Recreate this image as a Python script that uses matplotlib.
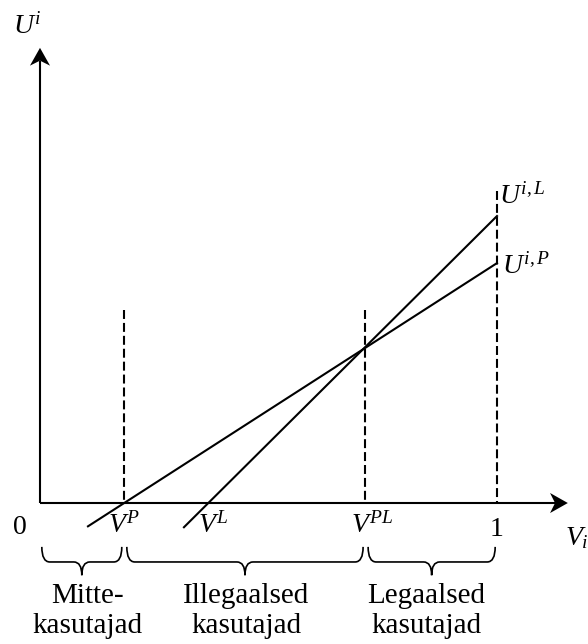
import numpy as np
import matplotlib.pyplot as plt
from matplotlib.patches import Polygon, PathPatch
from matplotlib.path import Path

plt.rcParams['mathtext.fontset'] = 'custom'
plt.rcParams['mathtext.rm'] = 'Liberation Serif'
plt.rcParams['mathtext.it'] = 'Liberation Serif:italic'
plt.rcParams['font.family'] = ['Liberation Serif', 'DejaVu Serif']

# punktid V teljel
v_p = 0.184
v_l = 0.368
v_pl = 0.711
v_max = 1.0

# kasulikkuse sirged (otspunktid)
u_p_x = [0.105, 1.0]
u_p_y = [-0.051, 0.525]
u_l_x = [0.315, 1.0]
u_l_y = [-0.053, 0.628]

# katkendjoonte x ja ulatus
dash_x = [v_p, v_pl, v_max]
dash_top = [0.422, 0.422, 0.683]

# loogelised sulud ja nende tekstid
brace_ranges = [(0.004, 0.179), (0.190, 0.707), (0.718, 0.996)]
brace_text_x = [0.105, 0.451, 0.845]
brace_line1 = ['Mitte-', 'Illegaalsed', 'Legaalsed']
brace_line2 = ['kasutajad', 'kasutajad', 'kasutajad']

x_tip = 1.155
y_tip = 0.996

fig = plt.figure(figsize=(5.88, 6.44), dpi=100)
ax = fig.add_axes([0, 0, 1, 1])
ax.set_xlim(-0.0875, 1.1991)
ax.set_ylim(-0.3085, 1.1007)
ax.axis('off')

lw = 1.5
hl, hw, notch = 0.039, 0.022, 0.011

# teljed noolega
ax.plot([0, x_tip - hl + notch], [0, 0], color='black', lw=lw, solid_capstyle='butt')
ax.plot([0, 0], [0, y_tip - hl + notch], color='black', lw=lw, solid_capstyle='butt')
ax.add_patch(Polygon([(x_tip, 0), (x_tip - hl, hw), (x_tip - hl + notch, 0), (x_tip - hl, -hw)],
                     closed=True, color='black', lw=0))
ax.add_patch(Polygon([(0, y_tip), (hw, y_tip - hl), (0, y_tip - hl + notch), (-hw, y_tip - hl)],
                     closed=True, color='black', lw=0))

# katkendjooned
for x, top in zip(dash_x, dash_top):
    ax.plot([x, x], [top, 0], color='black', lw=lw, linestyle=(0, (4.3, 1.9)))

# sirged
ax.plot(u_p_x, u_p_y, color='black', lw=lw)
ax.plot(u_l_x, u_l_y, color='black', lw=lw)

# sulud
y_top, y_mid, y_pt = -0.096, -0.129, -0.158
r = 0.0175
for x0, x1 in brace_ranges:
    xm = (x0 + x1) / 2
    verts = [(x0, y_top), (x0, y_mid), (x0 + r, y_mid),
             (xm - r, y_mid), (xm, y_mid), (xm, y_pt),
             (xm, y_mid), (xm + r, y_mid),
             (x1 - r, y_mid), (x1, y_mid), (x1, y_top)]
    codes = [Path.MOVETO, Path.CURVE3, Path.CURVE3,
             Path.LINETO, Path.CURVE3, Path.CURVE3,
             Path.CURVE3, Path.CURVE3,
             Path.LINETO, Path.CURVE3, Path.CURVE3]
    ax.add_patch(PathPatch(Path(verts, codes), fill=False, lw=1.2, color='black'))

for x, t1, t2 in zip(brace_text_x, brace_line1, brace_line2):
    ax.text(x, -0.219, t1, ha='center', va='baseline', fontsize=21)
    ax.text(x, -0.284, t2, ha='center', va='baseline', fontsize=21)

fs = 20
ax.text(-0.044, -0.0525, '0', ha='center', va='center', fontsize=fs)
ax.text(v_max, -0.059, '1', ha='center', va='center', fontsize=fs)
ax.text(1.149, -0.092, r'$V_i$', ha='left', va='baseline', fontsize=fs)
ax.text(0.149, -0.0656, r'$V^P$', ha='left', va='baseline', fontsize=fs)
ax.text(0.346, -0.0656, r'$V^L$', ha='left', va='baseline', fontsize=fs)
ax.text(0.680, -0.0656, r'$V^{PL}$', ha='left', va='baseline', fontsize=fs)
ax.text(1.004, 0.656, r'$U^{i,L}$', ha='left', va='baseline', fontsize=fs)
ax.text(1.011, 0.503, r'$U^{i,P}$', ha='left', va='baseline', fontsize=fs)
ax.text(-0.059, 1.028, r'$U^i$', ha='left', va='baseline', fontsize=fs)

fig.savefig('out.png', dpi=100)
